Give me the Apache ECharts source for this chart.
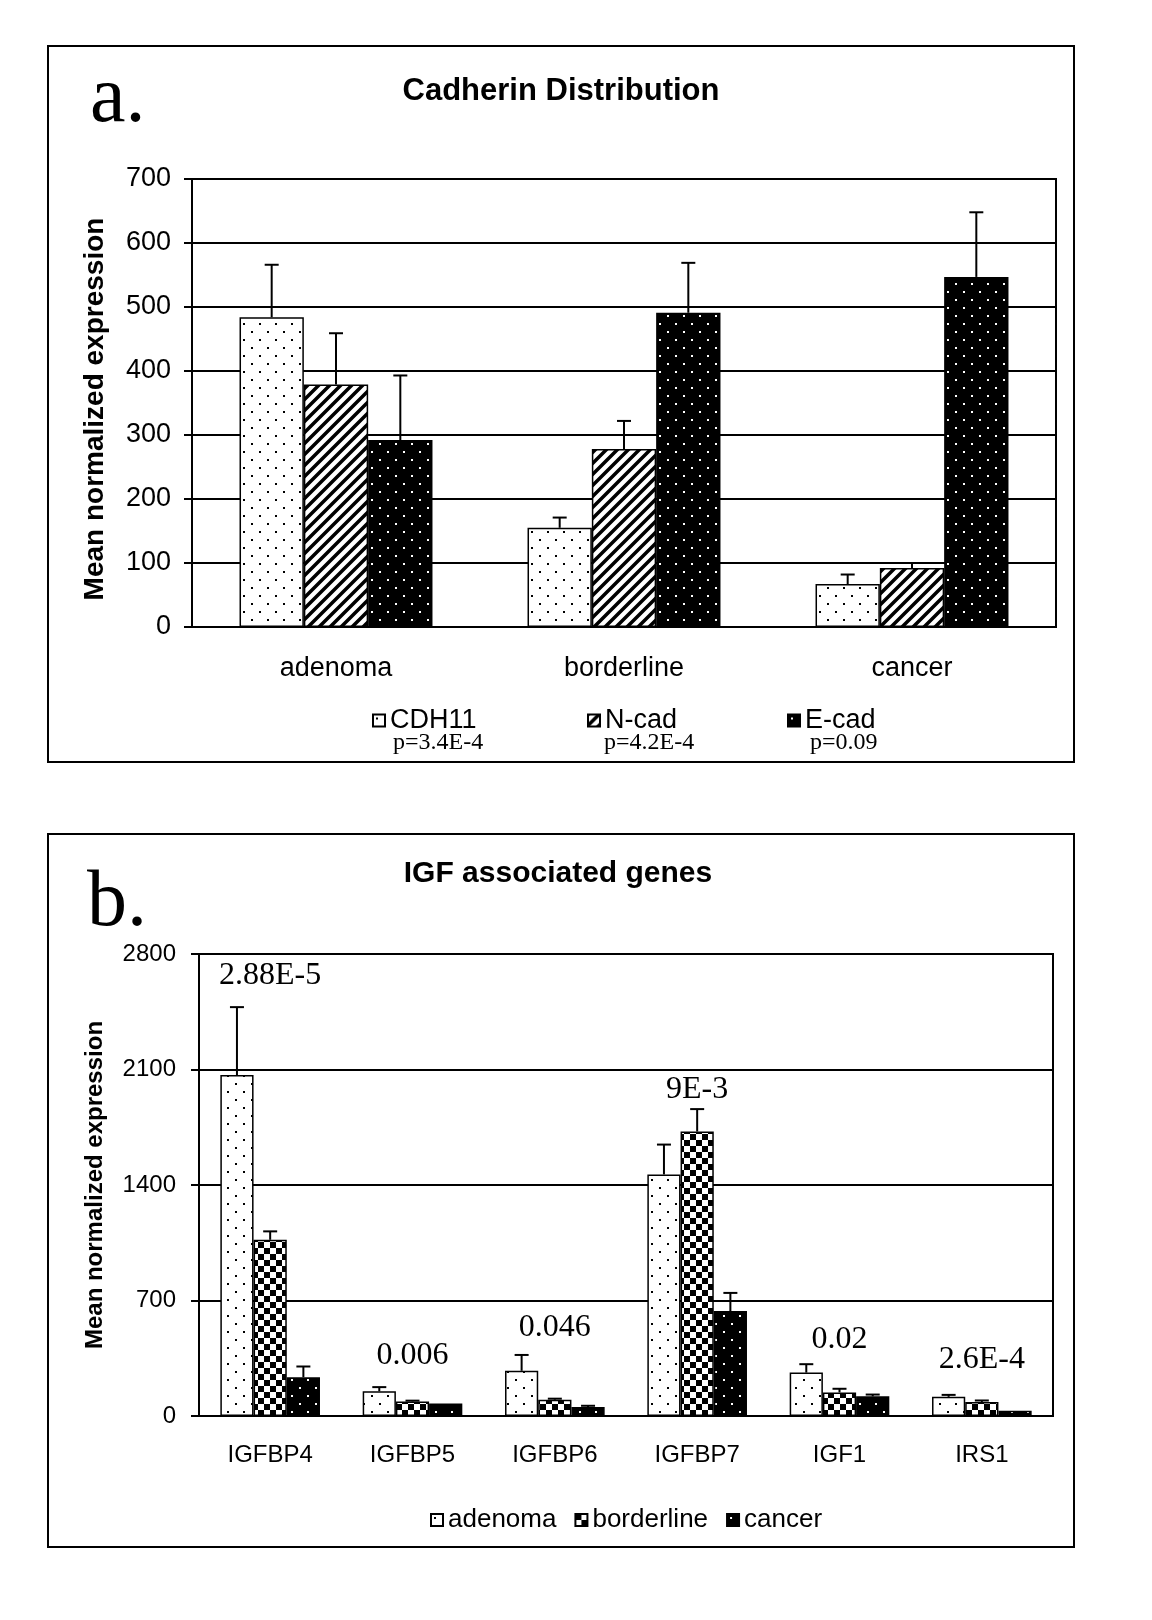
<!DOCTYPE html>
<html>
<head>
<meta charset="utf-8">
<title>Cadherin distribution / IGF associated genes</title>
<script src="https://cdn.jsdelivr.net/npm/echarts@6/dist/echarts.min.js"></script>
<style>
  html, body { margin: 0; padding: 0; background: #fff; }
  #chart { width: 1152px; height: 1620px; }
</style>
</head>
<body>
<div id="chart"></div>
<script>
// panel a - cadherins
const groupsA = ['adenoma', 'borderline', 'cancer'];
const cdh11 = [484, 155, 67];
const cdh11Err = [566, 171, 82];
const ncad = [379, 278, 92];
const ncadErr = [459, 322, 100];
const ecad = [292, 491, 547];
const ecadErr = [393, 569, 648];
const pValuesA = ['p=3.4E-4', 'p=4.2E-4', 'p=0.09'];

// panel b - IGF associated genes
const genesB = ['IGFBP4', 'IGFBP5', 'IGFBP6', 'IGFBP7', 'IGF1', 'IRS1'];
const adenoma = [2066, 150, 274, 1464, 263, 116];
const adenomaErr = [2478, 175, 370, 1645, 314, 128];
const borderline = [1068, 88, 99, 1724, 143, 85];
const borderlineErr = [1119, 93, 105, 1860, 165, 94];
const cancer = [235, 76, 54, 636, 119, 32];
const cancerErr = [300, 76, 62, 746, 130, 32];
const pValuesB = ['2.88E-5', '0.006', '0.046', '9E-3', '0.02', '2.6E-4'];
const pHeightsB = [2670, 365, 535, 1980, 465, 340];

const SANS = '"Liberation Sans", Arial, sans-serif';
const SERIF = '"Liberation Serif", "Times New Roman", serif';

// fill patterns (excel style)
function makePattern(size, draw) {
    const c = document.createElement('canvas');
    c.width = size;
    c.height = size;
    draw(c.getContext('2d'), size);
    return { image: c, repeat: 'repeat' };
}
const dotsWhite = makePattern(16, (g, s) => {
    g.fillStyle = '#fff'; g.fillRect(0, 0, s, s);
    g.fillStyle = '#000'; g.fillRect(3, 3, 2, 2); g.fillRect(11, 11, 2, 2);
});
const dotsBlack = makePattern(16, (g, s) => {
    g.fillStyle = '#000'; g.fillRect(0, 0, s, s);
    g.fillStyle = '#fff'; g.fillRect(3, 3, 2, 2); g.fillRect(11, 11, 2, 2);
});
const stripes = makePattern(11, (g, s) => {
    g.fillStyle = '#fff'; g.fillRect(0, 0, s, s);
    g.strokeStyle = '#000'; g.lineWidth = 3.5;
    g.beginPath();
    g.moveTo(-2, s + 2); g.lineTo(s + 2, -2);
    g.moveTo(-2, 2); g.lineTo(2, -2);
    g.moveTo(s - 2, s + 2); g.lineTo(s + 2, s - 2);
    g.stroke();
});
const checker = makePattern(12, (g, s) => {
    g.fillStyle = '#fff'; g.fillRect(0, 0, s, s);
    g.fillStyle = '#000'; g.fillRect(0, 0, 6, 6); g.fillRect(6, 6, 6, 6);
});

function bar(name, data, color, ax, gap) {
    return {
        name: name, type: 'bar', xAxisIndex: ax, yAxisIndex: ax,
        data: data, barGap: '0%', barCategoryGap: gap, silent: true,
        itemStyle: { color: color, borderColor: '#000', borderWidth: 1.5 }
    };
}

// upper error bar with cap, shifted onto its bar
function errBars(values, tops, ax, slot, count, gap) {
    return {
        type: 'custom', xAxisIndex: ax, yAxisIndex: ax, silent: true, z: 5,
        data: values.map((v, i) => [i, v, tops[i]]),
        encode: { x: 0, y: [1, 2] },
        renderItem: function (params, api) {
            if (api.value(2) <= api.value(1)) return null;
            const p0 = api.coord([api.value(0), api.value(1)]);
            const p1 = api.coord([api.value(0), api.value(2)]);
            const bw = api.size([1, 0])[0] * (1 - gap) / count;
            const x = p0[0] + (slot - (count - 1) / 2) * bw;
            const st = { stroke: '#000', lineWidth: 2 };
            return {
                type: 'group', children: [
                    { type: 'line', shape: { x1: x, y1: p0[1], x2: x, y2: p1[1] }, style: st },
                    { type: 'line', shape: { x1: x - 7, y1: p1[1], x2: x + 7, y2: p1[1] }, style: st }
                ]
            };
        }
    };
}

const axisLine = { lineStyle: { color: '#000', width: 2 } };
const tick = { length: 8, lineStyle: { color: '#000', width: 2 } };
const split = { lineStyle: { color: '#000', width: 2 } };

const chart = echarts.init(document.getElementById('chart'));
const option = {
    animation: false,
    backgroundColor: '#fff',
    grid: [
        { left: 192, top: 179, width: 864, height: 448, show: true, borderColor: '#000', borderWidth: 2 },
        { left: 199, top: 954, width: 854, height: 462, show: true, borderColor: '#000', borderWidth: 2 }
    ],
    xAxis: [
        {
            type: 'category', gridIndex: 0, data: groupsA,
            axisLine: axisLine, axisTick: tick,
            axisLabel: { color: '#000', fontFamily: SANS, fontSize: 27, margin: 28 }
        },
        {
            type: 'category', gridIndex: 1, data: genesB,
            axisLine: axisLine, axisTick: tick,
            axisLabel: { color: '#000', fontFamily: SANS, fontSize: 24, margin: 27 }
        }
    ],
    yAxis: [
        {
            type: 'value', gridIndex: 0, min: 0, max: 700, interval: 100,
            axisLine: { show: true, lineStyle: { color: '#000', width: 2 } },
            axisTick: { show: true, length: 8, lineStyle: { color: '#000', width: 2 } },
            splitLine: split,
            axisLabel: { color: '#000', fontFamily: SANS, fontSize: 27, margin: 21, formatter: v => String(v) }
        },
        {
            type: 'value', gridIndex: 1, min: 0, max: 2800, interval: 700,
            axisLine: { show: true, lineStyle: { color: '#000', width: 2 } },
            axisTick: { show: true, length: 8, lineStyle: { color: '#000', width: 2 } },
            splitLine: split,
            axisLabel: { color: '#000', fontFamily: SANS, fontSize: 24, margin: 23, formatter: v => String(v) }
        }
    ],
    legend: [
        { data: ['CDH11'], left: 367, top: 702 },
        { data: ['N-cad'], left: 582, top: 702 },
        { data: ['E-cad'], left: 782, top: 702 },
        { data: ['adenoma', 'borderline', 'cancer'], left: 425, top: 1502, itemGap: 18 }
    ].map(l => Object.assign({
        icon: 'rect', itemWidth: 12, itemHeight: 12, selectedMode: false,
        textStyle: { color: '#000', fontFamily: SANS, fontSize: l.data.length > 1 ? 26 : 27 }
    }, l)),
    series: [
        bar('CDH11', cdh11, dotsWhite, 0, '33%'),
        bar('N-cad', ncad, stripes, 0, '33%'),
        bar('E-cad', ecad, dotsBlack, 0, '33%'),
        errBars(cdh11, cdh11Err, 0, 0, 3, 0.33),
        errBars(ncad, ncadErr, 0, 1, 3, 0.33),
        errBars(ecad, ecadErr, 0, 2, 3, 0.33),
        bar('adenoma', adenoma, dotsWhite, 1, '30%'),
        bar('borderline', borderline, checker, 1, '30%'),
        bar('cancer', cancer, dotsBlack, 1, '30%'),
        errBars(adenoma, adenomaErr, 1, 0, 3, 0.30),
        errBars(borderline, borderlineErr, 1, 1, 3, 0.30),
        errBars(cancer, cancerErr, 1, 2, 3, 0.30),
        {
            type: 'scatter', xAxisIndex: 1, yAxisIndex: 1, silent: true, z: 6,
            symbolSize: 0, itemStyle: { color: '#000', opacity: 1 },
            data: pHeightsB.map((h, i) => [i, h]),
            label: {
                show: true, position: 'inside', color: '#000', opacity: 1,
                textBorderWidth: 0, fontFamily: SERIF, fontSize: 32,
                formatter: p => pValuesB[p.dataIndex]
            }
        }
    ],
    graphic: [
        { type: 'rect', shape: { x: 48, y: 46, width: 1026, height: 716 }, style: { fill: 'none', stroke: '#000', lineWidth: 2 }, silent: true },
        { type: 'rect', shape: { x: 48, y: 834, width: 1026, height: 713 }, style: { fill: 'none', stroke: '#000', lineWidth: 2 }, silent: true },
        { type: 'text', x: 90, y: 100, style: { text: 'a.', font: '80px ' + SERIF, fill: '#000', textVerticalAlign: 'middle' } },
        { type: 'text', x: 87, y: 904, style: { text: 'b.', font: '80px ' + SERIF, fill: '#000', textVerticalAlign: 'middle' } },
        { type: 'text', x: 561, y: 91, style: { text: 'Cadherin Distribution', font: 'bold 31px ' + SANS, fill: '#000', textAlign: 'center', textVerticalAlign: 'middle' } },
        { type: 'text', x: 558, y: 874, style: { text: 'IGF associated genes', font: 'bold 30px ' + SANS, fill: '#000', textAlign: 'center', textVerticalAlign: 'middle' } },
        { type: 'text', x: 95, y: 409, rotation: Math.PI / 2, style: { text: 'Mean normalized expression', font: 'bold 28px ' + SANS, fill: '#000', textAlign: 'center', textVerticalAlign: 'middle' } },
        { type: 'text', x: 95, y: 1185, rotation: Math.PI / 2, style: { text: 'Mean normalized expression', font: 'bold 24px ' + SANS, fill: '#000', textAlign: 'center', textVerticalAlign: 'middle' } },
        { type: 'text', x: 393, y: 743, style: { text: pValuesA[0], font: '24px ' + SERIF, fill: '#000', textVerticalAlign: 'middle' } },
        { type: 'text', x: 604, y: 743, style: { text: pValuesA[1], font: '24px ' + SERIF, fill: '#000', textVerticalAlign: 'middle' } },
        { type: 'text', x: 810, y: 743, style: { text: pValuesA[2], font: '24px ' + SERIF, fill: '#000', textVerticalAlign: 'middle' } }
    ]
};
chart.setOption(option);
</script>
</body>
</html>
